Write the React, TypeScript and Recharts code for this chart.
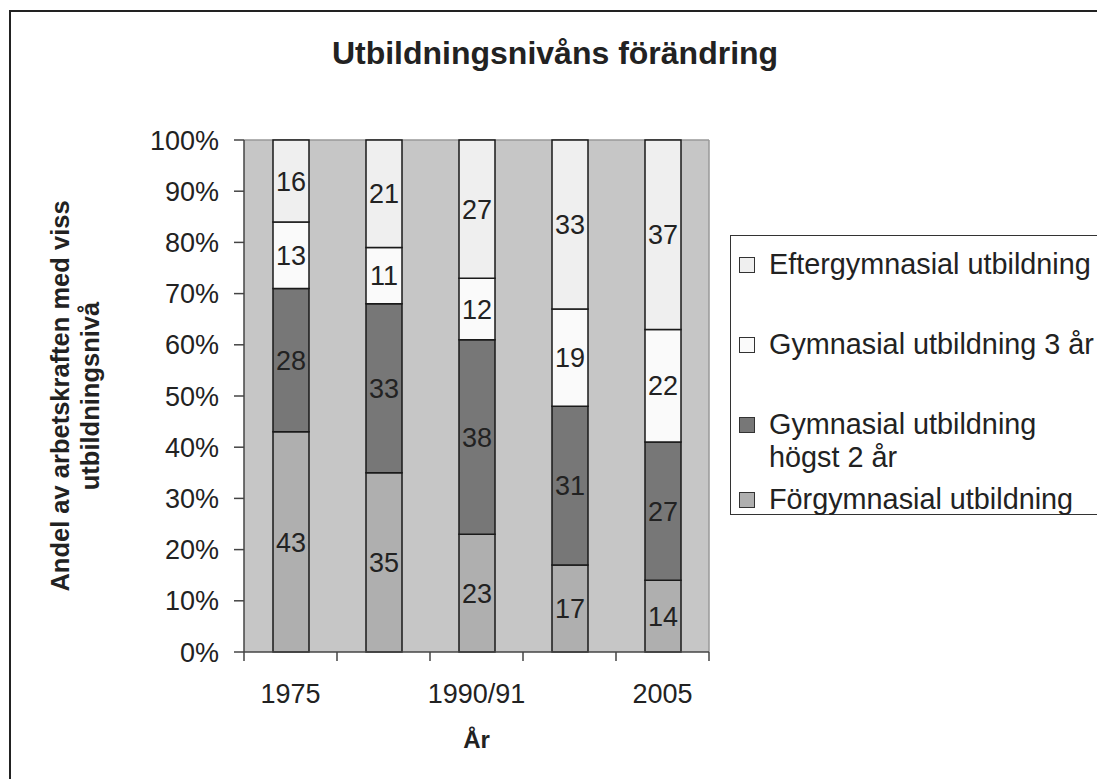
import React from "react";
import { BarChart, Bar, XAxis, YAxis, CartesianGrid, LabelList, Legend } from "recharts";

const categories = ["1975", "", "1990/91", "", "2005"];
const forgymnasial = [43, 35, 23, 17, 14];
const gymnasialHogst2 = [28, 33, 38, 31, 27];
const gymnasial3 = [13, 11, 12, 19, 22];
const eftergymnasial = [16, 21, 27, 33, 37];
const yTicks = [0, 10, 20, 30, 40, 50, 60, 70, 80, 90, 100];

const title = "Utbildningsnivåns förändring";
const yLabelLines = ["Andel av arbetskraften med viss", "utbildningsnivå"];
const xLabel = "År";

const series = [
  { key: "forg", name: "Förgymnasial utbildning", lines: ["Förgymnasial utbildning"], color: "#AFAFAF", values: forgymnasial },
  { key: "gym2", name: "Gymnasial utbildning högst 2 år", lines: ["Gymnasial utbildning", "högst 2 år"], color: "#777777", values: gymnasialHogst2 },
  { key: "gym3", name: "Gymnasial utbildning 3 år", lines: ["Gymnasial utbildning 3 år"], color: "#FAFAFA", values: gymnasial3 },
  { key: "efter", name: "Eftergymnasial utbildning", lines: ["Eftergymnasial utbildning"], color: "#EFEFEF", values: eftergymnasial },
];

const data = categories.map((c, i) => {
  const row: any = { idx: i, label: c };
  series.forEach((s) => (row[s.key] = s.values[i]));
  return row;
});

const FONT = "'Liberation Sans', Arial, sans-serif";

const legendGaps = [12, 47, 47, 9];

const LegendContent = () => {
  const items = [...series].reverse();
  return (
    <div
      style={{
        width: 400,
        height: 280,
        border: "1px solid #333",
        boxSizing: "border-box",
        fontFamily: FONT,
        fontSize: 28.8,
        color: "#222",
        background: "#fff",
      }}
    >
      {items.map((s, i) => (
        <div key={s.key} style={{ display: "flex", alignItems: "flex-start", marginTop: legendGaps[i], paddingLeft: 8 }}>
          <div
            style={{
              width: 14,
              height: 14,
              background: s.color,
              border: "1px solid #333",
              marginTop: 9,
              marginRight: 14,
              flex: "0 0 auto",
            }}
          />
          <div style={{ lineHeight: "33px", whiteSpace: "nowrap" }}>
            {s.lines.map((l, j) => (
              <div key={j}>{l}</div>
            ))}
          </div>
        </div>
      ))}
    </div>
  );
};

const XTick = (props: any) => {
  const { x, y, payload, index, width, visibleTicksCount } = props;
  const half =
    payload && typeof payload.offset === "number" && payload.offset > 0
      ? payload.offset
      : width / (visibleTicksCount || categories.length) / 2;
  const left = x - half;
  const right = x + half;
  const isLast = index === categories.length - 1;
  return (
    <g>
      <line x1={left} x2={left} y1={y} y2={y + 9} stroke="#444" strokeWidth={1.5} />
      {isLast && <line x1={right} x2={right} y1={y} y2={y + 9} stroke="#444" strokeWidth={1.5} />}
      <text x={x} y={y + 32} dy="0.71em" textAnchor="middle" fontFamily={FONT} fontSize={27} fill="#222">
        {categories[payload.value]}
      </text>
    </g>
  );
};

export default function App() {
  return (
    <div style={{ position: "absolute", left: 0, top: 0, width: 1097, height: 779, overflow: "hidden", background: "#fff" }}>
      <div
        style={{
          position: "absolute",
          left: 9,
          top: 10,
          width: 1200,
          height: 900,
          borderLeft: "2px solid #222",
          borderTop: "2px solid #222",
        }}
      />
      <div
        style={{
          position: "absolute",
          left: 0,
          top: 35,
          width: 1110,
          textAlign: "center",
          fontFamily: FONT,
          fontWeight: "bold",
          fontSize: 32,
          color: "#222",
        }}
      >
        {title}
      </div>
      <div style={{ position: "absolute", left: 0, top: 0 }}>
        <BarChart
          width={1097}
          height={779}
          data={data}
          barSize={36}
          margin={{ top: 140, left: 114, right: 388, bottom: 126 }}
          style={{ fontFamily: FONT }}
        >
          <CartesianGrid
            fill="#C6C6C6"
            stroke="#999"
            strokeWidth={1.5}
            horizontalCoordinatesGenerator={({ offset }: any) => [offset.top]}
            verticalCoordinatesGenerator={({ offset }: any) => [offset.left + offset.width]}
          />
          <XAxis
            dataKey="idx"
            type="category"
            height={1}
            tickLine={false}
            axisLine={{ stroke: "#444", strokeWidth: 1.5 }}
            tickSize={0}
            tickMargin={0}
            tick={<XTick />}
            interval={0}
            label={{
              content: ({ viewBox }: any) => (
                <text
                  x={viewBox.x + viewBox.width / 2}
                  y={viewBox.y + 96}
                  textAnchor="middle"
                  fontFamily={FONT}
                  fontWeight="bold"
                  fontSize={24}
                  fill="#222"
                >
                  {xLabel}
                </text>
              ),
            }}
          />
          <YAxis
            type="number"
            domain={[0, 100]}
            ticks={yTicks}
            interval={0}
            width={130}
            tickSize={10}
            tickMargin={15}
            tickFormatter={(v: any) => `${v}%`}
            tick={{ fill: "#222", fontSize: 27, fontFamily: FONT }}
            axisLine={{ stroke: "#444", strokeWidth: 1.5 }}
            tickLine={{ stroke: "#444", strokeWidth: 1.5 }}
            label={{
              content: ({ viewBox }: any) => {
                const cy = viewBox.y + viewBox.height / 2;
                return (
                  <g>
                    {yLabelLines.map((l, i) => {
                      const x = 60 + i * 30;
                      return (
                        <text
                          key={i}
                          x={x}
                          y={cy}
                          transform={`rotate(-90 ${x} ${cy})`}
                          textAnchor="middle"
                          dominantBaseline="central"
                          fontFamily={FONT}
                          fontWeight="bold"
                          fontSize={25.5}
                          fill="#222"
                        >
                          {l}
                        </text>
                      );
                    })}
                  </g>
                );
              },
            }}
          />
          <Legend
            layout="vertical"
            align="center"
            verticalAlign="middle"
            wrapperStyle={{ left: 730, top: 235, width: 400, height: 280 }}
            content={() => <LegendContent />}
          />
          {series.map((s) => (
            <Bar
              key={s.key}
              dataKey={s.key}
              name={s.name}
              stackId="a"
              fill={s.color}
              stroke="#1a1a1a"
              strokeWidth={1.5}
              isAnimationActive={false}
            >
              <LabelList dataKey={s.key} position="center" fill="#222" fontSize={27} fontFamily={FONT} />
            </Bar>
          ))}
        </BarChart>
      </div>
    </div>
  );
}
